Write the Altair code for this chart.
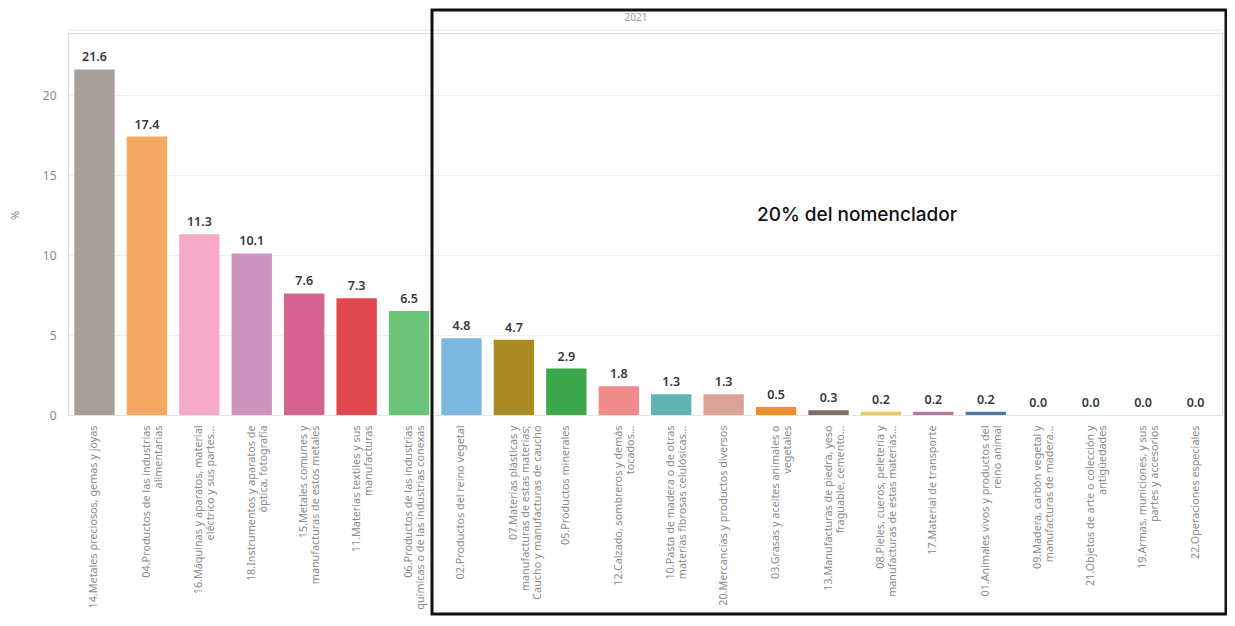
import altair as alt
import pandas as pd

# ---------------- data ----------------
categories = [
    "14.Metales preciosos, gemas y joyas",
    "04.Productos de las industrias|alimentarias",
    "16.Máquinas y aparatos, material|eléctrico y sus partes...",
    "18.Instrumentos y aparatos de|óptica, fotografía",
    "15.Metales comunes y|manufacturas de estos metales",
    "11.Materias textiles y sus|manufacturas",
    "06.Productos de las industrias|químicas o de las industrias conexas",
    "02.Productos del reino vegetal",
    "07.Materias plásticas y|manufacturas de estas materias;|Caucho y manufacturas de caucho",
    "05.Productos minerales",
    "12.Calzado, sombreros y demás|tocados...",
    "10.Pasta de madera o de otras|materias fibrosas celulósicas...",
    "20.Mercancías y productos diversos",
    "03.Grasas y aceites animales o|vegetales",
    "13.Manufacturas de piedra, yeso|fraguable, cemento...",
    "08.Pieles, cueros, peletería y|manufacturas de estas materias...",
    "17.Material de transporte",
    "01.Animales vivos y productos del|reino animal",
    "09.Madera, carbón vegetal y|manufacturas de madera...",
    "21.Objetos de arte o colección y|antigüedades",
    "19.Armas, municiones, y sus|partes y accesorios",
    "22.Operaciones especiales",
]
values = [21.6, 17.4, 11.3, 10.1, 7.6, 7.3, 6.5, 4.8, 4.7, 2.9, 1.8, 1.3, 1.3,
          0.5, 0.3, 0.2, 0.2, 0.2, 0.0, 0.0, 0.0, 0.0]
colors = ["#ab9f9b", "#f5a862", "#f5a9c6", "#cc95c0", "#d4648f", "#e0474f",
          "#6cc37a", "#7db9df", "#a88b22", "#3ca74b", "#f38b8a", "#5fb3b3",
          "#d9a398", "#f28e2b", "#7f6a66", "#e8c960", "#b07aa1", "#4e79a7",
          "#9c9c9c", "#9c9c9c", "#9c9c9c", "#9c9c9c"]
year = "2021"
note = "20% del nomenclador"

df = pd.DataFrame({
    "cat": categories,
    "val": values,
    "color": colors,
    "label": [f"{v:.1f}" for v in values],
})

W, H = 1154, 382

x = alt.X(
    "cat:N", sort=categories,
    scale=alt.Scale(paddingInner=0.23, paddingOuter=0.12),
    axis=alt.Axis(title=None, labelAngle=-90, labelExpr="split(datum.label, '|')",
                  labelFontSize=10.8, labelColor="#8a8a8a", labelPadding=10,
                  labelLineHeight=12, labelLimit=400, ticks=False, domain=True,
                  domainColor="#e3e3e3", labelFont="Noto Sans"),
)
y = alt.Y(
    "val:Q", scale=alt.Scale(domain=[0, 23.875], nice=False),
    axis=alt.Axis(title="%", values=[0, 5, 10, 15, 20], labelFontSize=12,
                  labelColor="#8a8a8a", labelPadding=12, ticks=False,
                  domain=True, domainColor="#dcdcdc", gridColor="#efefef",
                  titleFontSize=11, titleColor="#8a8a8a", titleFontWeight="normal",
                  titleX=-48, titleY=182, labelFont="Noto Sans", titleFont="Noto Sans"),
)

base = alt.Chart(df)
bars = base.mark_bar().encode(x=x, y=y, color=alt.Color("color:N", scale=None))
text = base.mark_text(dy=-12, fontSize=12.5, font="Noto Sans", fontWeight=600,
                      color="#383838").encode(x=x, y=y, text="label:N")

ann = pd.DataFrame({"t": [note], "yr": [year]})
frame = alt.Chart(ann).mark_rect(fill=None, stroke="#111111", strokeWidth=3).encode(
    x=alt.value(364), x2=alt.value(1158), y=alt.value(-23), y2=alt.value(581))
note_text = alt.Chart(ann).mark_text(fontSize=19, font="Inter", fontWeight=500,
                                     color="#111111").encode(
    x=alt.value(789), y=alt.value(182), text="t:N")
year_text = alt.Chart(ann).mark_text(fontSize=10, font="Noto Sans",
                                     color="#9a9a9a").encode(
    x=alt.value(568), y=alt.value(-15), text="yr:N")
header_line = alt.Chart(ann).mark_rule(color="#e6e6e6", strokeWidth=1).encode(
    x=alt.value(0), x2=alt.value(W), y=alt.value(-3))

chart = alt.layer(bars, text, header_line, frame, note_text, year_text).properties(
    width=W, height=H,
    autosize=alt.AutoSizeParams(type="none"),
    padding={"left": 60, "top": 25, "right": 5, "bottom": 203},
).configure_view(stroke="#e6e6e6").configure(background="white")

chart.save("out.html", embed_options={"renderer": "svg", "actions": False})
